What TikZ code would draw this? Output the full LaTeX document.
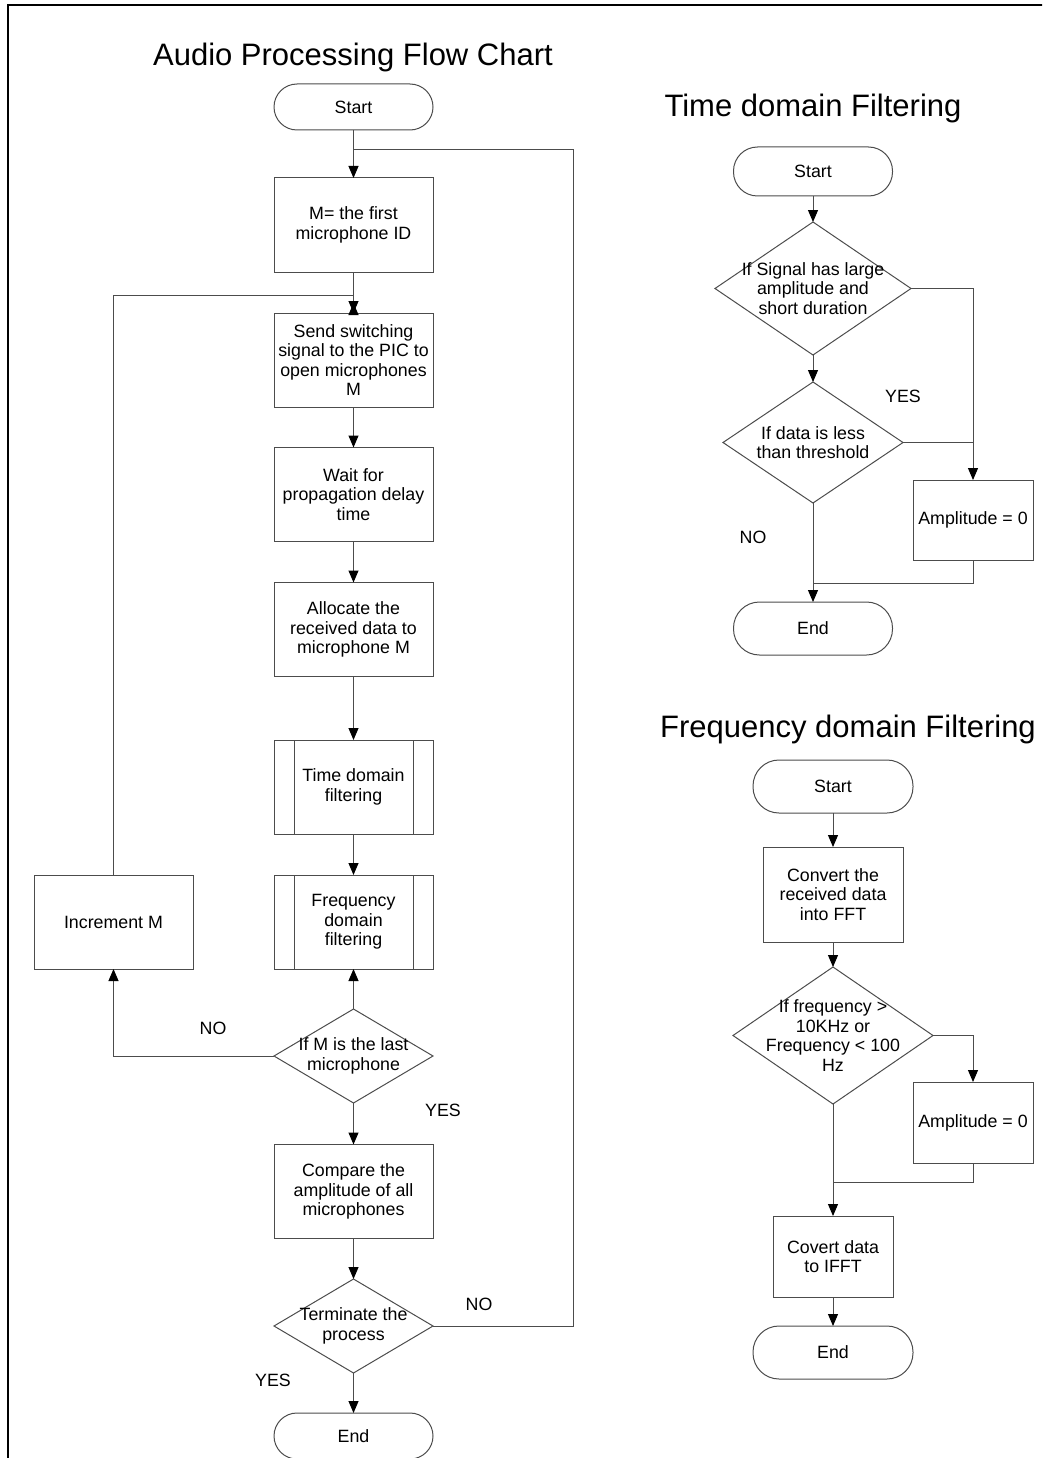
\documentclass[tikz,border=0pt]{standalone}
\usepackage{fontspec}
\setmainfont{Liberation Sans}
\usetikzlibrary{arrows.meta,shapes.geometric,calc}
\begin{document}
\begin{tikzpicture}[x=1pt,y=-1pt,
  every node/.style={font=\fontsize{17.8}{19.5}\selectfont, align=center, inner sep=0pt, outer sep=0pt, text=black},
  ln/.style={draw=black!70, line width=1pt},
  arr/.style={ln, -{Triangle[length=12pt,width=10pt,color=black]}},
  box/.style={rectangle, draw=black!70, line width=1pt, minimum width=159pt, minimum height=94pt},
  subbox/.style={box, path picture={
     \draw[black!70, line width=1pt] ([xshift=20pt]path picture bounding box.north west) -- ([xshift=20pt]path picture bounding box.south west);
     \draw[black!70, line width=1pt] ([xshift=-20pt]path picture bounding box.north east) -- ([xshift=-20pt]path picture bounding box.south east);}},
  term/.style={rectangle, rounded corners=23pt, draw=black!70, line width=1pt, minimum width=159pt, minimum height=46pt},
  dia/.style={diamond, draw=black!70, line width=1pt},
  ttl/.style={font=\fontsize{31}{36}\selectfont, anchor=base}
]
\useasboundingbox (0,0) rectangle (1042,1458);
\clip (0,0) rectangle (1042,1458);
% frame
\draw[line width=2pt] (8,1460) -- (8,5) -- (1044,5);

% ---------- Main chart ----------
\node[ttl] (t1) at (353,66) {Audio Processing Flow Chart};
\node[term] (s) at (353.5,107) {Start};
\node[box] (b1) at (353.5,225) {M= the first\\microphone ID};
\node[box] (b2) at (353.5,360) {Send switching\\signal to the PIC to\\open microphones\\M};
\node[box] (b3) at (353.5,494.5) {Wait for\\propagation delay\\time};
\node[box] (b4) at (353.5,629.5) {Allocate the\\received data to\\microphone M};
\node[subbox] (b5) at (353.5,787) {Time domain\\filtering};
\node[subbox] (b6) at (353.5,922) {Frequency\\domain\\filtering};
\node[box] (inc) at (113.5,922) {Increment M};
\node[dia, minimum width=159pt, minimum height=94pt] (d1) at (353.5,1056) {};
\node (d1t) at (353.5,1056) {If M is the last\\microphone};
\node[box] (cmp) at (353.5,1191.5) {Compare the\\amplitude of all\\microphones};
\node[dia, minimum width=159pt, minimum height=94pt] (d2) at (353.5,1326) {};
\node (d2t) at (353.5,1326) {Terminate the\\process};
\node[term] (e) at (353.5,1436) {End};

\coordinate (j1) at (353.5,150);
\coordinate (j2) at (353.5,295);
\coordinate (up) at (353.5,303);

\draw[arr] (s) -- (b1);
\draw[arr] (b1) -- (b2);
\draw[arr] (b2.north) -- (up);
\draw[arr] (b2) -- (b3);
\draw[arr] (b3) -- (b4);
\draw[arr] (b4) -- (b5);
\draw[arr] (b5) -- (b6);
\draw[arr] (d1.north) -- (b6.south);
\draw[arr] (d1.west) -| (inc.south);
\draw[ln] (inc.north) |- (j2);
\draw[arr] (d1.south) -- (cmp.north);
\draw[arr] (cmp) -- (d2.north);
\draw[arr] (d2.south) -- (e.north);
\draw[ln] (d2.east) -| (573,150) -- (j1);

\node (no1) at (213,1028) {NO};
\node (yes1) at (443,1110) {YES};
\node (no2) at (479,1304) {NO};
\node (yes2) at (273,1380) {YES};

% ---------- Time domain ----------
\node[ttl] (t2) at (813,117) {Time domain Filtering};
\node[term, rounded corners=24pt, minimum height=49pt] (ts) at (813,171.5) {Start};
\node[dia, minimum width=196pt, minimum height=133pt] (td1) at (813,288.5) {};
\node (td1t) at (813,288.5) {If Signal has large\\amplitude and\\short duration};
\node[dia, minimum width=180pt, minimum height=121pt] (td2) at (813,442.5) {};
\node (td2t) at (813,442.5) {If data is less\\than threshold};
\node[box, minimum width=120pt, minimum height=80pt] (tamp) at (973,520) {Amplitude = 0};
\node[term, rounded corners=26pt, minimum height=53pt] (tend) at (813,628.5) {End};
\coordinate (j3) at (813,583);

\draw[arr] (ts) -- (td1.north);
\draw[arr] (td1.south) -- (td2.north);
\draw[arr] (td1.east) -| (tamp.north);
\draw[ln] (td2.east) -- (tamp.north |- td2.east);
\draw[arr] (td2.south) -- (tend.north);
\draw[ln] (tamp.south) |- (j3);

\node (yes3) at (903,396) {YES};
\node (no3) at (753,537) {NO};

% ---------- Frequency domain ----------
\node[ttl] (t3) at (848,737) {Frequency domain Filtering};
\node[term, rounded corners=26pt, minimum width=160pt, minimum height=53pt] (fs) at (833,786.5) {Start};
\node[box, minimum width=140pt, minimum height=95pt] (fb) at (833,894.5) {Convert the\\received data\\into FFT};
\node[dia, minimum width=200pt, minimum height=137pt] (fd) at (833,1035.5) {};
\node (fdt) at (833,1035.5) {If frequency >\\10KHz or\\Frequency < 100\\Hz};
\node[box, minimum width=120pt, minimum height=81pt] (famp) at (973,1122.5) {Amplitude = 0};
\node[box, minimum width=120pt, minimum height=81pt] (fc) at (833,1256.5) {Covert data\\to IFFT};
\node[term, rounded corners=26pt, minimum width=160pt, minimum height=53pt] (fend) at (833,1352.5) {End};
\coordinate (j4) at (833,1182);

\draw[arr] (fs) -- (fb);
\draw[arr] (fb) -- (fd.north);
\draw[arr] (fd.east) -| (famp.north);
\draw[arr] (fd.south) -- (fc.north);
\draw[ln] (famp.south) |- (j4);
\draw[arr] (fc) -- (fend);
\end{tikzpicture}
\end{document}
